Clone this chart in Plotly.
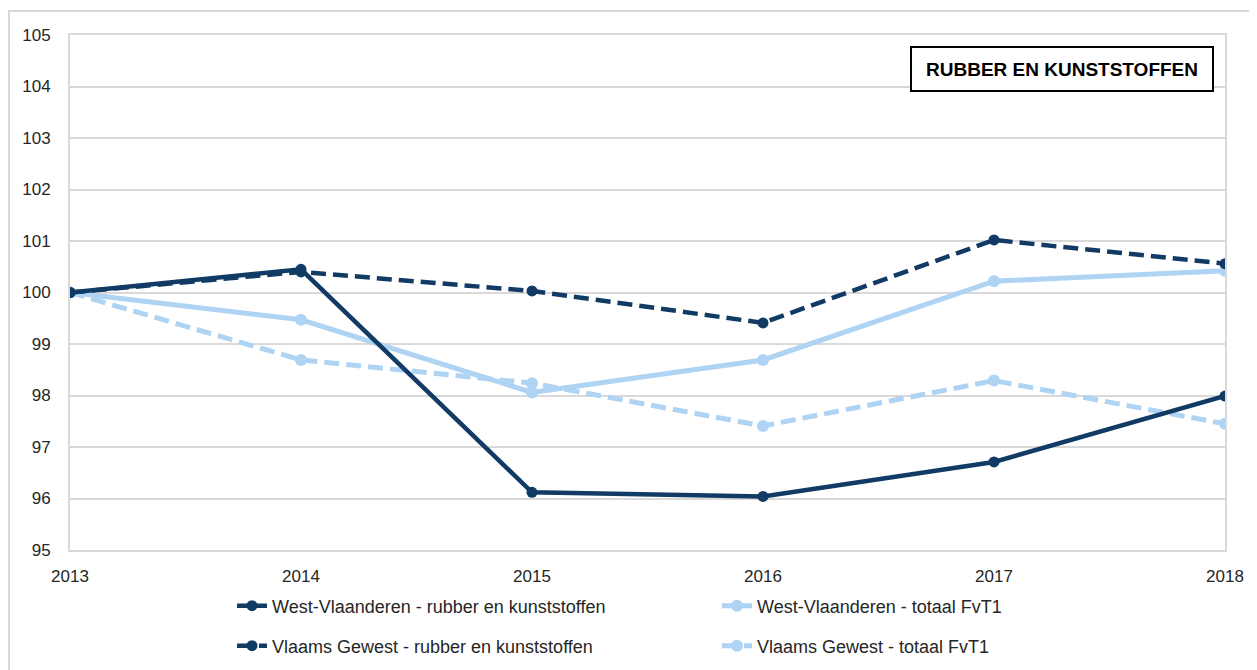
import plotly.graph_objects as go

years = [2013, 2014, 2015, 2016, 2017, 2018]
wv_rubber = [100.0, 100.45, 96.12, 96.04, 96.71, 97.99]
wv_totaal = [100.0, 99.47, 98.06, 98.69, 100.22, 100.42]
vg_rubber = [100.0, 100.40, 100.03, 99.41, 101.02, 100.56]
vg_totaal = [100.0, 98.69, 98.24, 97.41, 98.29, 97.45]
names = [
    "West-Vlaanderen - rubber en kunststoffen",
    "West-Vlaanderen - totaal FvT1",
    "Vlaams Gewest - rubber en kunststoffen",
    "Vlaams Gewest - totaal FvT1",
]
title_text = "RUBBER EN KUNSTSTOFFEN"

DARK = "#113B64"
LIGHT = "#AED3F3"
FONT = "Liberation Sans"
TXT = "#262626"

# page body has an 8px margin; work in reference-page pixels, shift by OFF
OFF = 8
PAGE_W, PAGE_H = 1257, 670
W, H = PAGE_W - OFF, PAGE_H - OFF
L, R, T, B = 70 - OFF, 1225 - OFF, 35 - OFF, 550 - OFF

fig = go.Figure()
specs = [
    (wv_rubber, names[0], DARK, "solid", "legend", 11, 4.5),
    (wv_totaal, names[1], LIGHT, "solid", "legend", 12, 5),
    (vg_rubber, names[2], DARK, "15px,7px", "legend2", 11, 4.5),
    (vg_totaal, names[3], LIGHT, "15px,7px", "legend2", 12, 5),
]
order = [1, 3, 0, 2]
for i in order:
    vals, nm, col, dash, leg, ms, lw = specs[i]
    fig.add_trace(go.Scatter(
        x=years, y=vals, name=nm, mode="lines+markers",
        line=dict(color=col, width=lw, dash=dash),
        marker=dict(color=col, size=ms),
        legend=leg, legendrank=i,
    ))

pw = R - L
ph = B - T
def px_x(x):  # reference page px -> paper fraction
    return (x - OFF - L) / pw
def px_y(y):
    return (B - (y - OFF)) / ph

leg_common = dict(
    orientation="h", xanchor="left", yanchor="middle",
    entrywidth=440, entrywidthmode="pixels", traceorder="normal",
    font=dict(family=FONT, size=18, color=TXT), bgcolor="rgba(0,0,0,0)",
)

fig.update_layout(
    width=W, height=H,
    margin=dict(l=L, r=W - R, t=T, b=H - B, autoexpand=False),
    paper_bgcolor="white", plot_bgcolor="white",
    font=dict(family=FONT, size=17, color=TXT),
    showlegend=True,
    legend=dict(x=px_x(232), y=px_y(606), **leg_common),
    legend2=dict(x=px_x(232), y=px_y(646), **leg_common),
    xaxis=dict(
        range=[2013, 2018], tickmode="array", tickvals=years,
        ticktext=[str(y) for y in years],
        showgrid=False, zeroline=False, automargin=False,
        showline=True, linecolor="#D9D9D9", linewidth=2, mirror=True,
        ticks="", ticklabelstandoff=10,
        tickfont=dict(family=FONT, size=17, color=TXT),
    ),
    yaxis=dict(
        range=[95, 105], dtick=1, tick0=95, automargin=False,
        showgrid=True, gridcolor="#D9D9D9", gridwidth=2,
        zeroline=False,
        showline=True, linecolor="#D9D9D9", linewidth=2, mirror=True,
        ticks="", ticklabelstandoff=14,
        tickfont=dict(family=FONT, size=17, color=TXT),
    ),
    shapes=[dict(
        type="rect", xref="paper", yref="paper",
        x0=px_x(9), x1=px_x(PAGE_W + 20), y0=px_y(PAGE_H + 20), y1=px_y(11),
        line=dict(color="#D9D9D9", width=2), fillcolor="rgba(0,0,0,0)", layer="below",
    )],
    annotations=[dict(
        text="<b>" + title_text + "</b>", xref="paper", yref="paper",
        x=px_x(1062), y=px_y(69), xanchor="center", yanchor="middle",
        showarrow=False, font=dict(family=FONT, size=19, color="#000000"),
        bordercolor="#000000", borderwidth=2, borderpad=0,
        width=300, height=42, bgcolor="white",
    )],
)

fig.write_html("out.html")
